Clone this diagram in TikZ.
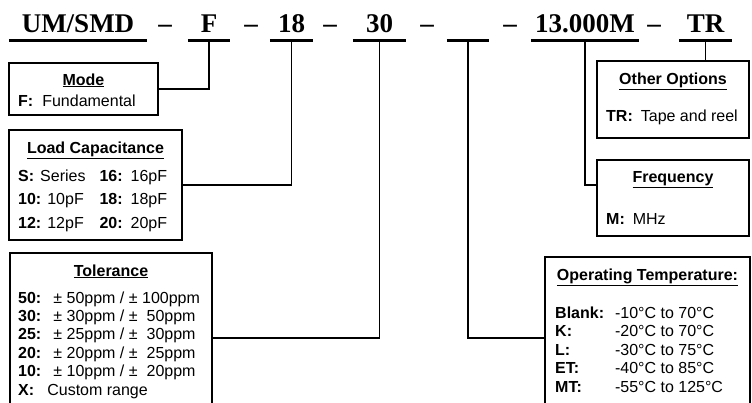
\documentclass[tikz,border=0pt]{standalone}
\usepackage{fontspec}
\setmainfont{Liberation Sans}
\newfontfamily\partfont{Liberation Serif}
\begin{document}
\begin{tikzpicture}[x=1pt,y=-1pt,
  part/.style={anchor=south,inner xsep=0pt,inner ysep=7pt,text depth=0pt,
    font=\partfont\bfseries\fontsize{27}{30}\selectfont},
  box/.style={draw,line width=1.8pt,inner sep=0pt},
  head/.style={anchor=base,inner sep=0pt,font=\bfseries\fontsize{16}{18}\selectfont},
  txt/.style={anchor=base west,inner sep=0pt},
  rule/.style={line width=3pt},
  link/.style={line width=1.4pt}]
\path[use as bounding box] (0,0) rectangle (752,402);
\clip (0,0) rectangle (752,402);

% part number
\node[part,minimum width=138pt] (pUM) at (78,40) {UM/SMD};
\node[part] (dA) at (165,40) {–};
\node[part,minimum width=42pt] (pF) at (209,40) {F};
\node[part] (dB) at (251,40) {–};
\node[part,minimum width=43pt] (p18) at (291.5,40) {18};
\node[part] (dC) at (330,40) {–};
\node[part,minimum width=53pt] (p30) at (379.5,40) {30};
\node[part] (dD) at (427,40) {–};
\node[part,minimum width=42pt] (pBl) at (468,40) {};
\node[part] (dE) at (510,40) {–};
\node[part,minimum width=108pt] (p13) at (585,40) {13.000M};
\node[part] (dF) at (654,40) {–};
\node[part,minimum width=53pt] (pTR) at (705.5,40) {TR};
\foreach \p in {pUM,pF,p18,p30,pBl,p13,pTR}
  \draw[rule] (\p.south west) -- (\p.south east);

% boxes
\node[box,minimum width=149pt,minimum height=52pt] (mode) at (83.5,89) {};
\node[box,minimum width=173pt,minimum height=110pt] (load) at (95.5,185) {};
\node[box,minimum width=202pt,minimum height=170pt] (tol) at (111,338) {};
\node[box,minimum width=205pt,minimum height=162pt] (temp) at (647.5,338) {};
\node[box,minimum width=152pt,minimum height=77pt] (opt) at (673,99.5) {};
\node[box,minimum width=152pt,minimum height=76pt] (freq) at (673,198) {};

\node[head] (modeH) at (83.5,85) {\underline{Mode}};
\node[txt,font=\fontsize{16}{18}\selectfont] (modeT) at (18,106)
  {\textbf{F:}\hspace{9pt}Fundamental};

\node[head] (loadH) at (95.5,153) {\underline{Load Capacitance}};
\node[txt,font=\fontsize{16}{23.5}\selectfont] (loadT) at (18,181)
  {\begin{tabular}[t]{@{}l@{\hspace{14pt}}l@{}}
   \textbf{S:}\hspace{6pt}Series & \textbf{16:}\hspace{8pt}16pF\\
   \textbf{10:}\hspace{6pt}10pF & \textbf{18:}\hspace{8pt}18pF\\
   \textbf{12:}\hspace{6pt}12pF & \textbf{20:}\hspace{8pt}20pF
   \end{tabular}};

\node[head] (tolH) at (111,276) {\underline{Tolerance}};
\node[txt,font=\fontsize{16}{18.4}\selectfont] (tolT) at (18,303)
  {\begin{tabular}[t]{@{}l@{\hspace{12pt}}l@{\hspace{4.5pt}}l@{ / }l@{\hspace{4.5pt}}l@{}}
   \textbf{50:} & ± & 50ppm & ± & 100ppm\\
   \textbf{30:} & ± & 30ppm & ± & \hspace{4.5pt}50ppm\\
   \textbf{25:} & ± & 25ppm & ± & \hspace{4.5pt}30ppm\\
   \textbf{20:} & ± & 20ppm & ± & \hspace{4.5pt}25ppm\\
   \textbf{10:} & ± & 10ppm & ± & \hspace{4.5pt}20ppm\\
   \textbf{X:} & \multicolumn{4}{@{\hspace{-6pt}}l@{}}{Custom range}
   \end{tabular}};

\node[head] (tempH) at (647.5,280) {\underline{Operating Temperature:}};
\node[txt,font=\fontsize{16}{18.5}\selectfont] (tempT) at (555,318)
  {\begin{tabular}[t]{@{}l@{\hspace{11pt}}l@{}}
   \textbf{Blank:} & -10°C to 70°C\\
   \textbf{K:} & -20°C to 70°C\\
   \textbf{L:} & -30°C to 75°C\\
   \textbf{ET:} & -40°C to 85°C\\
   \textbf{MT:} & -55°C to 125°C
   \end{tabular}};

\node[head] (optH) at (673,84) {\underline{Other Options}};
\node[txt,font=\fontsize{16}{18}\selectfont] (optT) at (606,121)
  {\textbf{TR:}\hspace{8pt}Tape and reel};

\node[head] (freqH) at (673,182) {\underline{Frequency}};
\node[txt,font=\fontsize{16}{18}\selectfont] (freqT) at (606,224)
  {\textbf{M:}\hspace{8pt}MHz};

% connectors
\draw[link] (pF.south) |- (mode.east);
\draw[link] (p18.south) |- (load.east);
\draw[link] (p30.south) |- (tol.east);
\draw[link] (pBl.south) |- (temp.west);
\draw[link] (p13.south) |- ([yshift=13pt]freq.west);
\draw[link] (pTR.south) -- (pTR.south |- opt.north);
\end{tikzpicture}
\end{document}
